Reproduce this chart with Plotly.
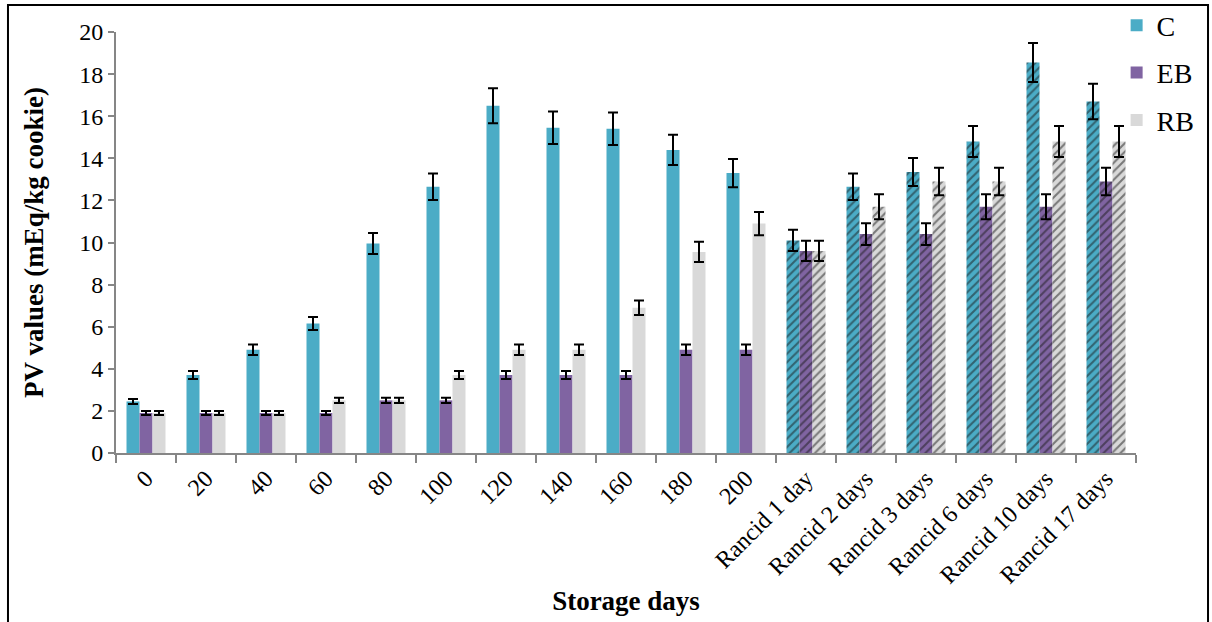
import plotly.graph_objects as go

categories = ["0", "20", "40", "60", "80", "100", "120", "140", "160", "180", "200",
              "Rancid 1 day", "Rancid 2 days", "Rancid 3 days", "Rancid 6 days",
              "Rancid 10 days", "Rancid 17 days"]

c_values = [2.45, 3.7, 4.9, 6.15, 9.95, 12.65, 16.5, 15.45, 15.4, 14.4, 13.3,
            10.1, 12.65, 13.35, 14.8, 18.55, 16.7]
eb_values = [1.9, 1.9, 1.9, 1.9, 2.5, 2.5, 3.7, 3.7, 3.7, 4.9, 4.9,
             9.6, 10.4, 10.4, 11.7, 11.7, 12.9]
rb_values = [1.9, 1.9, 1.9, 2.5, 2.5, 3.7, 4.9, 4.9, 6.9, 9.55, 10.9,
             9.6, 11.7, 12.9, 12.9, 14.8, 14.8]

c_err = [0.12, 0.19, 0.25, 0.31, 0.5, 0.63, 0.83, 0.77, 0.77, 0.72, 0.67,
         0.5, 0.63, 0.67, 0.74, 0.93, 0.84]
eb_err = [0.1, 0.1, 0.1, 0.1, 0.13, 0.13, 0.19, 0.19, 0.19, 0.25, 0.25,
          0.48, 0.52, 0.52, 0.59, 0.59, 0.65]
rb_err = [0.1, 0.1, 0.1, 0.13, 0.13, 0.19, 0.25, 0.25, 0.35, 0.48, 0.55,
          0.48, 0.59, 0.65, 0.65, 0.74, 0.74]

# stored samples are plain, rancid samples are hatched
hatch = ["" if not c.startswith("Rancid") else "/" for c in categories]

series = [
    ("C", c_values, c_err, "#4BACC6"),
    ("EB", eb_values, eb_err, "#8064A2"),
    ("RB", rb_values, rb_err, "#D9D9D9"),
]

FONT = "Liberation Serif, Times New Roman, serif"

fig = go.Figure()
for name, vals, err, color in series:
    fig.add_trace(go.Bar(
        name=name, x=categories, y=vals, legendgroup=name,
        marker=dict(color=color, line=dict(width=0),
                    pattern=dict(shape=hatch, fgcolor="#1a1a1a", bgcolor=color,
                                 size=6, solidity=0.35, fillmode="overlay")),
        error_y=dict(type="data", array=err, visible=True, color="black",
                     thickness=2, width=5),
    ))

fig.update_layout(
    width=1212, height=622,
    margin=dict(l=116, r=76, t=32, b=169, autoexpand=False),
    paper_bgcolor="white", plot_bgcolor="white",
    barmode="group", bargap=0.35, bargroupgap=0,
    font=dict(family=FONT, size=24, color="black"),
    showlegend=True,
    legend=dict(x=0.981, y=1.075, xanchor="left", yanchor="top",
                font=dict(family=FONT, size=28, color="black"),
                tracegroupgap=8, itemwidth=30, bgcolor="rgba(0,0,0,0)"),
    xaxis=dict(
        type="category", showline=True, linecolor="#868686", linewidth=2,
        ticks="outside", tickson="boundaries", ticklen=8, tickcolor="#868686",
        tickwidth=2, tickangle=-45, showgrid=False,
        tickfont=dict(family=FONT, size=24),
        title=dict(text="<b>Storage days</b>", font=dict(family=FONT, size=27),
                   standoff=4),
    ),
    yaxis=dict(
        range=[0, 20], dtick=2, showline=True, linecolor="#868686", linewidth=2,
        ticks="outside", ticklen=6, tickcolor="#868686", tickwidth=2,
        showgrid=False, zeroline=False, tickfont=dict(family=FONT, size=24),
        title=dict(text="<b>PV values (mEq/kg cookie)</b>",
                   font=dict(family=FONT, size=27), standoff=28),
    ),
    shapes=[dict(type="rect", xref="paper", yref="paper",
                 x0=-0.1059, x1=1.0706, y0=-0.45, y1=1.064,
                 line=dict(color="black", width=2), fillcolor="rgba(0,0,0,0)",
                 layer="above")],
)

fig.write_html("out.html")
